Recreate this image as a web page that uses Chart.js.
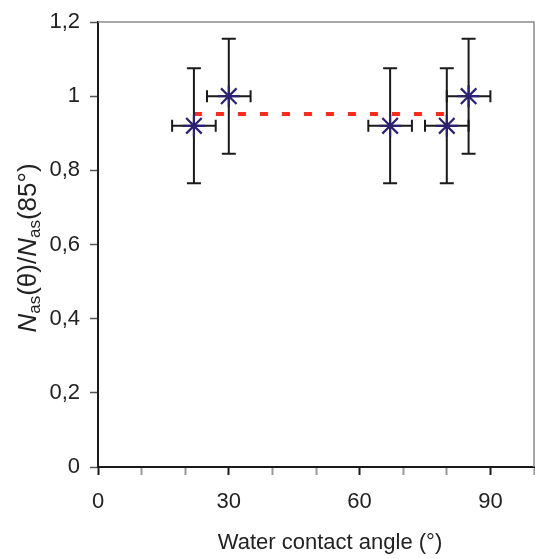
<!DOCTYPE html>
<html>
<head>
<meta charset="utf-8">
<script src="https://cdn.jsdelivr.net/npm/chart.js@4"></script>
<style>
  html, body { margin: 0; padding: 0; background: #fff; }
  #wrap { width: 535px; height: 559px; }
</style>
</head>
<body>
<div id="wrap"><canvas id="angleChart" width="535" height="559"></canvas></div>
<script>
// -------- DATA --------
const angles = [22, 30, 67, 80, 85];
const ratios = [0.92, 1.0, 0.92, 0.92, 1.0];
const angleErr = [5, 5, 5, 5, 5];
const ratioErr = [0.155, 0.155, 0.155, 0.155, 0.155];
const meanX = [22, 82];
const meanY = [0.952, 0.952];
const xTickLabels = [0, 30, 60, 90];
const xTitle = "Water contact angle (°)";

const FONT = "'Liberation Sans', Arial, sans-serif";
const TEXT = "#222";

// error bars, drawn before the star markers
const errorBars = {
    id: "errorBars",
    beforeDatasetDraw(chart, args) {
        if (args.index !== 1) return;
        const { ctx, scales: { x, y } } = chart;
        ctx.save();
        ctx.strokeStyle = "#1a1a1a";
        ctx.lineWidth = 2;
        angles.forEach((a, i) => {
            const px = x.getPixelForValue(a);
            const py = y.getPixelForValue(ratios[i]);
            const yTop = y.getPixelForValue(ratios[i] + ratioErr[i]);
            const yBot = y.getPixelForValue(ratios[i] - ratioErr[i]);
            const xL = x.getPixelForValue(a - angleErr[i]);
            const xR = x.getPixelForValue(a + angleErr[i]);
            ctx.beginPath();
            ctx.moveTo(px, yTop); ctx.lineTo(px, yBot);
            ctx.moveTo(px - 7, yTop); ctx.lineTo(px + 7, yTop);
            ctx.moveTo(px - 7, yBot); ctx.lineTo(px + 7, yBot);
            ctx.moveTo(xL, py); ctx.lineTo(xR, py);
            ctx.moveTo(xL, py - 6); ctx.lineTo(xL, py + 6);
            ctx.moveTo(xR, py - 6); ctx.lineTo(xR, py + 6);
            ctx.stroke();
        });
        ctx.restore();
    }
};

// frame (top/right) and axis titles
const frameAndTitles = {
    id: "frameAndTitles",
    afterDraw(chart) {
        const { ctx, chartArea: a } = chart;
        ctx.save();
        ctx.strokeStyle = "#8a8a8a";
        ctx.lineWidth = 1.5;
        ctx.beginPath();
        ctx.moveTo(a.left, a.top); ctx.lineTo(a.right, a.top); ctx.lineTo(a.right, a.bottom);
        ctx.stroke();

        ctx.fillStyle = TEXT;
        ctx.textBaseline = "middle";
        ctx.textAlign = "center";
        ctx.font = "22px " + FONT;
        ctx.fillText(xTitle, 330, 543);

        // y title: N_as(θ)/N_as(85°)
        const parts = [
            { t: "N", f: "italic 26px " + FONT, dy: 0 },
            { t: "as", f: "17px " + FONT, dy: 6 },
            { t: "(θ)/", f: "26px " + FONT, dy: 0 },
            { t: "N", f: "italic 26px " + FONT, dy: 0 },
            { t: "as", f: "17px " + FONT, dy: 6 },
            { t: "(85°)", f: "26px " + FONT, dy: 0 }
        ];
        let total = 0;
        parts.forEach(p => { ctx.font = p.f; p.w = ctx.measureText(p.t).width; total += p.w; });
        ctx.translate(29, 248);
        ctx.rotate(-Math.PI / 2);
        ctx.textAlign = "left";
        let cx = -total / 2;
        parts.forEach(p => {
            ctx.font = p.f;
            ctx.fillText(p.t, cx, p.dy);
            cx += p.w;
        });
        ctx.restore();
    }
};

const ctx = document.getElementById("angleChart").getContext("2d");

new Chart(ctx, {
    type: "scatter",
    data: {
        datasets: [
            {
                type: "line",
                label: "mean",
                data: meanX.map((v, i) => ({ x: v, y: meanY[i] })),
                borderColor: "#ff2a1a",
                borderWidth: 4,
                borderDash: [8, 14],
                pointRadius: 0,
                fill: false,
                order: 2
            },
            {
                label: "ratio",
                data: angles.map((v, i) => ({ x: v, y: ratios[i] })),
                pointStyle: "star",
                pointRadius: 11,
                borderColor: "#2c2170",
                backgroundColor: "#2c2170",
                borderWidth: 2.2,
                order: 1
            }
        ]
    },
    options: {
        responsive: false,
        devicePixelRatio: 1,
        animation: false,
        layout: { autoPadding: false, padding: { top: 22, right: 1, left: 0, bottom: 0 } },
        plugins: {
            legend: { display: false },
            tooltip: { enabled: false }
        },
        scales: {
            x: {
                type: "linear",
                min: 0,
                max: 100,
                afterFit: s => { s.height = 92; s.paddingLeft = 0; s.paddingRight = 0; },
                border: { display: true, color: "#1a1a1a", width: 2 },
                grid: {
                    drawOnChartArea: false,
                    drawTicks: true,
                    tickLength: 8,
                    tickWidth: 2,
                    color: c => xTickLabels.includes(c.tick.value) ? "#1a1a1a" : "#999"
                },
                ticks: {
                    stepSize: 10,
                    autoSkip: false,
                    maxRotation: 0,
                    padding: 14,
                    color: TEXT,
                    font: { family: FONT, size: 22 },
                    callback: v => xTickLabels.includes(v) ? String(v) : ""
                }
            },
            y: {
                min: 0,
                max: 1.2,
                afterFit: s => { s.width = 98; s.paddingTop = 0; s.paddingBottom = 0; },
                border: { display: true, color: "#1a1a1a", width: 2 },
                grid: {
                    drawOnChartArea: false,
                    drawTicks: true,
                    tickLength: 8,
                    tickWidth: 1.5,
                    color: "#555"
                },
                ticks: {
                    stepSize: 0.2,
                    padding: 10,
                    color: TEXT,
                    font: { family: FONT, size: 22 },
                    callback: v => String(Number(v.toFixed(1))).replace(".", ",")
                }
            }
        }
    },
    plugins: [errorBars, frameAndTitles]
});
</script>
</body>
</html>
